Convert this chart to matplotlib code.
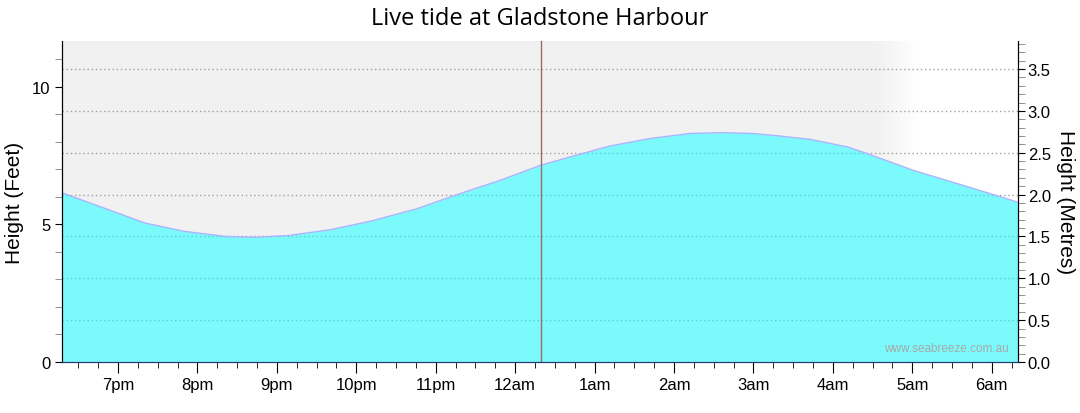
import matplotlib
matplotlib.use("Agg")
import matplotlib.pyplot as plt
import numpy as np
from matplotlib.ticker import MultipleLocator, FuncFormatter

# tide heights (metres), time in decimal hours from midnight of day 1
hours = [18.30, 19.34, 19.84, 20.35, 20.72, 21.14, 21.67, 22.17, 22.76, 23.30,
         23.81, 24.32, 24.73, 25.19, 25.70, 26.20, 26.61, 26.99, 27.33, 27.71,
         28.18, 28.43, 29.01, 29.64, 30.26, 30.33]
height_m = [2.02, 1.66, 1.56, 1.50, 1.49, 1.51, 1.58, 1.68, 1.83, 2.01,
            2.17, 2.35, 2.46, 2.58, 2.67, 2.73, 2.74, 2.73, 2.70, 2.66,
            2.57, 2.49, 2.29, 2.11, 1.93, 1.905]
now_hour = 24.32
x_start, x_end = 18.295, 30.33

hour_names = {19: "7pm", 20: "8pm", 21: "9pm", 22: "10pm", 23: "11pm", 24: "12am",
              25: "1am", 26: "2am", 27: "3am", 28: "4am", 29: "5am", 30: "6am"}

plt.rcParams['font.family'] = ['Liberation Sans', 'DejaVu Sans']

fig = plt.figure(figsize=(10.8, 4.14), dpi=100)
ax = fig.add_axes([62/1080, 1 - 363/414, (1018-62)/1080, (363-42)/414])
axr = ax.twinx()
ax.set_zorder(axr.get_zorder() + 1)
ax.patch.set_visible(False)

# background: grey fading to white near the end
xs = np.linspace(0, 1, 400)
fade0, fade1 = (880-62)/956, (918-62)/956
t = np.clip((xs - fade0) / (fade1 - fade0), 0, 1)
vals = 0.949 + (1 - 0.949) * t
axr.imshow(np.dstack([vals[None, :]] * 3), extent=[0, 1, 0, 1], transform=axr.transAxes,
           aspect='auto', zorder=0)

axr.set_ylim(0, 3.835)
ax.set_ylim(0, 11.67)
ax.set_xlim(x_start, x_end)
axr.set_xlim(x_start, x_end)

poly = axr.fill_between(hours, height_m, 0, color='#7bfafc', lw=0, zorder=2)
clip = poly.get_paths()[0]

# grid at metre levels: grey on background, teal where it runs through the water
for g in np.arange(0.5, 3.51, 0.5):
    axr.axhline(g, color='#a0a0a0', lw=1, ls=(0, (1, 2)), zorder=1)
    ln = axr.axhline(g, color='#55cfd2', lw=1, ls=(0, (1, 2)), zorder=2.5)
    ln.set_clip_path(clip, axr.transData)

axr.plot(hours, height_m, color='#a8b4ff', lw=1, zorder=3)
axr.axvline(now_hour, color='#a06868', lw=1, zorder=4)

# x axis
ax.xaxis.set_major_locator(MultipleLocator(1))
ax.xaxis.set_minor_locator(MultipleLocator(0.25))
ax.xaxis.set_major_formatter(FuncFormatter(lambda v, p: hour_names.get(int(round(v)), "")))
ax.tick_params(axis='x', which='major', length=8, color='black', labelsize=12, pad=3)
ax.tick_params(axis='x', which='minor', length=4, color='black')

# left axis (feet)
ax.yaxis.set_major_locator(MultipleLocator(5))
ax.yaxis.set_minor_locator(MultipleLocator(1))
ax.tick_params(axis='y', which='major', length=5, labelsize=12)
ax.tick_params(axis='y', which='minor', length=5, color='#808080')
ax.set_ylabel("Height (Feet)", fontsize=15, va='center')
ax.yaxis.set_label_coords(-0.05, 0.5)

# right axis (metres)
axr.yaxis.set_major_locator(MultipleLocator(0.5))
axr.yaxis.set_minor_locator(MultipleLocator(0.1))
axr.yaxis.set_major_formatter(FuncFormatter(lambda v, p: f"{v:.1f}"))
axr.tick_params(axis='y', which='major', length=5, labelsize=12, pad=2)
axr.tick_params(axis='y', which='minor', length=5, color='#808080')
axr.set_ylabel("Height (Metres)", fontsize=15, rotation=270, va='center')
axr.yaxis.set_label_coords((1065-62)/956, 0.5)

for a in (ax, axr):
    a.spines['top'].set_visible(False)
ax.spines['bottom'].set_color('#1f3f6f')
axr.spines['bottom'].set_color('#1f3f6f')

ax.text(0.99, 0.025, "www.seabreeze.com.au", transform=ax.transAxes, ha='right', va='bottom',
        fontsize=8.5, color='#a8a8a8')

fig.text(0.5, 0.955, "Live tide at Gladstone Harbour", ha='center', va='center', fontsize=17,
         family=['Open Sans', 'DejaVu Sans'])

fig.savefig("out.png", dpi=100)
